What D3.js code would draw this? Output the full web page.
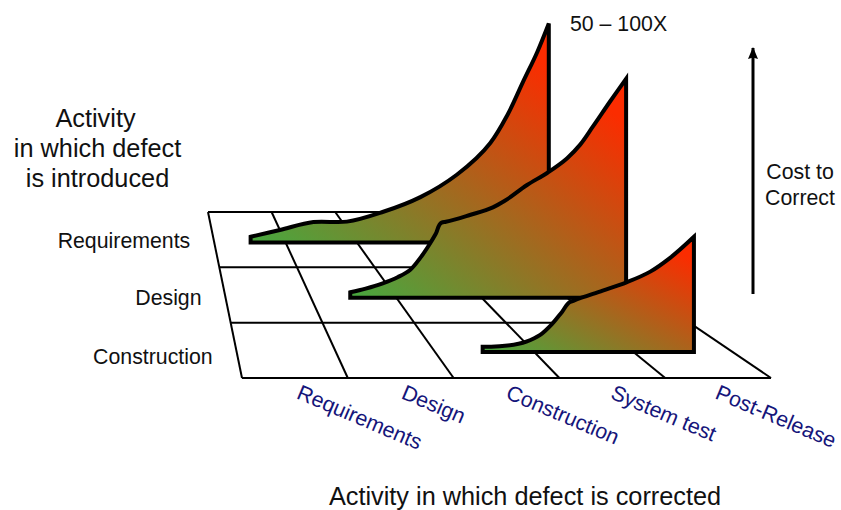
<!DOCTYPE html>
<html>
<head>
<meta charset="utf-8">
<script src="https://cdn.jsdelivr.net/npm/d3@7"></script>
<style>
  html, body { margin: 0; padding: 0; background: #fff; }
  text { font-family: "Liberation Sans", Arial, sans-serif; fill: #111; }
</style>
</head>
<body>
<div id="graph"></div>
<script>
// activity names on the two floor axes
const introduced = ["Requirements", "Design", "Construction"];
const corrected = ["Requirements", "Design", "Construction", "System test", "Post-Release"];

// where each ribbon stands on the floor (in rows from the back edge)
const depths = [0.55, 1.55, 2.53];

// position along the corrected axis (columns) and relative cost
const reqStage = [0.51, 0.92, 1.39, 1.86, 2.37, 2.89, 3.40, 3.87, 4.11, 4.33, 4.53, 4.69];
const reqCost = [2.6, 5.7, 9.3, 9.5, 14, 20.7, 30.9, 45.4, 58.2, 73.4, 87.1, 100];
const desStage = [1.46, 1.64, 1.84, 2.02, 2.16, 2.28, 2.37, 2.46, 2.53, 2.58, 2.86, 3.13, 3.27, 3.53, 3.77, 4.00, 4.15, 4.30, 4.50, 4.69];
const desCost = [2.5, 4.2, 6.6, 9.5, 12.7, 18.2, 23.3, 29.1, 34.3, 34.7, 37.8, 41.3, 44.3, 51.5, 57.1, 63.7, 69.8, 78.1, 89.5, 100];
const conStage = [2.48, 2.92, 3.06, 3.18, 3.28, 3.36, 3.40, 3.69, 3.93, 4.17, 4.37, 4.61];
const conCost = [2.4, 4.7, 7.8, 12.8, 18.3, 22.8, 23.5, 28, 31.8, 36.7, 43, 52.6];

const stages = [reqStage, desStage, conStage];
const costs = [reqCost, desCost, conCost];

const width = 841, height = 510;

const svg = d3.select("#graph").append("svg")
    .attr("width", width).attr("height", height)
    .style("display", "block");

// floor in fake perspective: back and front edge have their own column scale
const yFloor = d3.scaleLinear().domain([0, introduced.length]).range([212, 378]);
const xBack = d3.scaleLinear().domain([0, corrected.length]).range([208, 526]);
const xFront = d3.scaleLinear().domain([0, corrected.length]).range([242, 771]);
const yCost = d3.scaleLinear().domain([0, 100]).range([0, 219]);
const xColLabel = d3.scaleLinear().domain([0, corrected.length - 1]).range([295.5, 714]);

// x on the floor for a column position at a given row depth
function floorX(col, depth) {
    const t = depth / introduced.length;
    return xBack(col) + t * (xFront(col) - xBack(col));
}

const defs = svg.append("defs");
const grad = defs.append("linearGradient").attr("id", "heat")
    .attr("x1", 0).attr("y1", 1).attr("x2", 1).attr("y2", 0);
grad.append("stop").attr("offset", "0.02").attr("stop-color", "#4aa63e");
grad.append("stop").attr("offset", "0.9").attr("stop-color", "#fb2c00");

defs.append("marker").attr("id", "head")
    .attr("viewBox", "0 0 10 12").attr("refX", 5).attr("refY", 1)
    .attr("markerUnits", "userSpaceOnUse")
    .attr("markerWidth", 10).attr("markerHeight", 12).attr("orient", 0)
  .append("path").attr("d", "M5,0L10,12L5,10.5L0,12Z").attr("fill", "#000");

// floor grid
const grid = svg.append("g").attr("stroke", "#000").attr("stroke-width", 2).attr("fill", "none");
d3.range(introduced.length + 1).forEach(r => {
    grid.append("line")
        .attr("x1", floorX(0, r)).attr("y1", yFloor(r))
        .attr("x2", floorX(corrected.length, r)).attr("y2", yFloor(r));
});
d3.range(corrected.length + 1).forEach(c => {
    grid.append("line")
        .attr("x1", xBack(c)).attr("y1", yFloor(0))
        .attr("x2", xFront(c)).attr("y2", yFloor(introduced.length));
});

// ribbons, back to front
introduced.forEach((name, i) => {
    const base = yFloor(depths[i]);
    const area = d3.area()
        .x(d => floorX(d[0], depths[i]))
        .y0(base)
        .y1(d => base - yCost(d[1]))
        .curve(d3.curveCatmullRom.alpha(1));
    svg.append("path")
        .datum(d3.zip(stages[i], costs[i]))
        .attr("d", area)
        .attr("fill", "url(#heat)")
        .attr("stroke", "#000")
        .attr("stroke-width", 4)
        .attr("stroke-linejoin", "miter");
});

// row labels
const rowLabelY = [241, 298, 357];
introduced.forEach((name, i) => {
    svg.append("text")
        .attr("x", floorX(0, depths[i]) - 24)
        .attr("y", rowLabelY[i])
        .attr("dy", "0.35em")
        .attr("text-anchor", "end")
        .style("font-size", "21.3px")
        .text(name);
});

// column labels
corrected.forEach((name, i) => {
    svg.append("text")
        .attr("transform", `translate(${xColLabel(i)},398) rotate(23)`)
        .style("font-size", "21.4px")
        .style("fill", "#15157a")
        .text(name);
});

// titles
const leftTitle = ["Activity", "in which defect", "is introduced"];
leftTitle.forEach((s, i) => {
    svg.append("text")
        .attr("x", i == 0 ? 95.5 : 97.5).attr("y", 127 + i * 30)
        .attr("text-anchor", "middle")
        .style("font-size", "25.3px")
        .text(s);
});

svg.append("text")
    .attr("x", 525).attr("y", 505)
    .attr("text-anchor", "middle")
    .style("font-size", "25.3px")
    .text("Activity in which defect is corrected");

svg.append("text")
    .attr("x", 570).attr("y", 31)
    .style("font-size", "21.3px")
    .text("50 \u2013 100X");

// cost arrow
svg.append("line")
    .attr("x1", 753).attr("y1", 294)
    .attr("x2", 753).attr("y2", 48)
    .attr("stroke", "#000").attr("stroke-width", 3)
    .attr("marker-end", "url(#head)");

["Cost to", "Correct"].forEach((s, i) => {
    svg.append("text")
        .attr("x", 800).attr("y", 179 + i * 26)
        .attr("text-anchor", "middle")
        .style("font-size", "21.3px")
        .text(s);
});
</script>
</body>
</html>
